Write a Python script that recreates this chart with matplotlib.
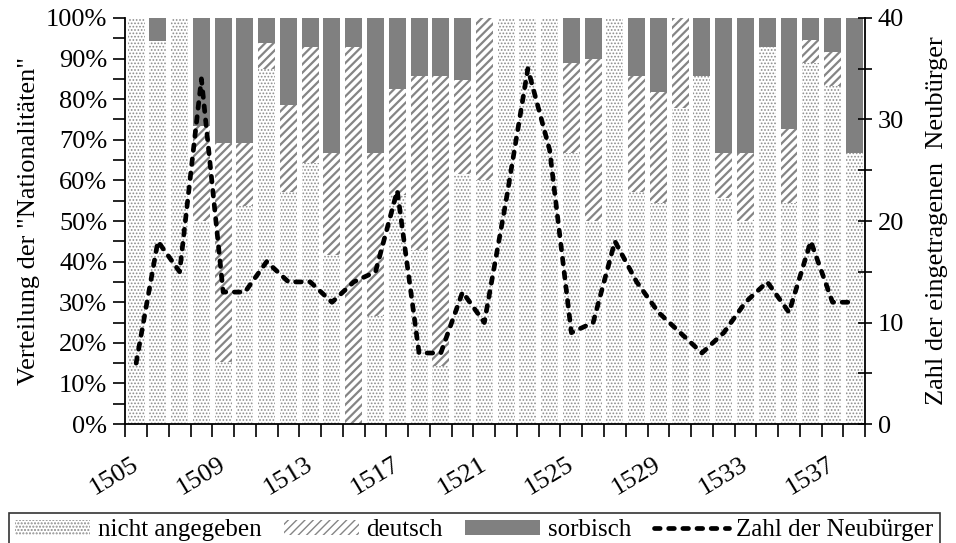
import matplotlib
matplotlib.use("Agg")
import matplotlib.pyplot as plt
from matplotlib.patches import Patch
from matplotlib.lines import Line2D
from matplotlib.ticker import FixedLocator, MultipleLocator, FuncFormatter
from matplotlib.transforms import ScaledTranslation

plt.rcParams["font.family"] = ["Liberation Serif", "DejaVu Serif"]

years = list(range(1505, 1539))

# shares in percent per year
nicht_angegeben = [100, 94.4, 100, 50, 15.4, 53.8, 87.5, 57.1, 64.3, 41.7,
                   0, 26.7, 56.5, 42.9, 14.3, 61.5, 60, 100, 100, 100,
                   66.7, 50, 100, 57.1, 54.5, 77.8, 85.7, 55.6, 50, 92.9,
                   54.5, 88.9, 83.3, 66.7]
deutsch = [0, 0, 0, 23.5, 53.8, 15.4, 6.25, 21.4, 28.6, 25,
           92.9, 40, 26.1, 42.9, 71.4, 23.1, 40, 0, 0, 0,
           22.2, 40, 0, 28.6, 27.3, 22.2, 0, 11.1, 16.7, 0,
           18.2, 5.6, 8.3, 0]
sorbisch = [0, 5.6, 0, 26.5, 30.8, 30.8, 6.25, 21.4, 7.1, 33.3,
            7.1, 33.3, 17.4, 14.3, 14.3, 15.4, 0, 0, 0, 0,
            11.1, 10, 0, 14.3, 18.2, 0, 14.3, 33.3, 33.3, 7.1,
            27.3, 5.6, 8.3, 33.3]

# number of new citizens (right axis)
neubuerger = [6, 18, 15, 34, 13, 13, 16, 14, 14, 12,
              14, 15, 23, 7, 7, 13, 10, 22, 35, 27,
              9, 10, 18, 14, 11, 9, 7, 9, 12, 14,
              11, 18, 12, 12]

label_years = [1505, 1509, 1513, 1517, 1521, 1525, 1529, 1533, 1537]

x = list(range(len(years)))
bottom_de = nicht_angegeben
bottom_so = [a + b for a, b in zip(nicht_angegeben, deutsch)]

fig = plt.figure(figsize=(9.56, 5.43), dpi=100)
ax = fig.add_axes([0.131, 0.219, 0.774, 0.748])

w = 0.78
dot_style = dict(facecolor="white", edgecolor="#8c8c8c", hatch=".....", linewidth=0)
hatch_style = dict(facecolor="white", edgecolor="#858585", hatch="////", linewidth=0)
solid_style = dict(facecolor="#808080", edgecolor="#808080", linewidth=0)
line_style = dict(color="black", linewidth=3.4, dashes=(1.2, 1.8),
                  dash_capstyle="round")

with plt.rc_context({"hatch.linewidth": 0.8}):
    ax.bar(x, nicht_angegeben, w, **dot_style)
    dot_handle = Patch(**dot_style, label="nicht angegeben")
with plt.rc_context({"hatch.linewidth": 1.6}):
    ax.bar(x, deutsch, w, bottom=bottom_de, **hatch_style)
    hatch_handle = Patch(**hatch_style, label="deutsch")
ax.bar(x, sorbisch, w, bottom=bottom_so, **solid_style)

ax.set_xlim(-0.5, len(years) - 0.5)
ax.set_ylim(0, 100)
ax.yaxis.set_major_locator(MultipleLocator(10))
ax.yaxis.set_minor_locator(MultipleLocator(5))
ax.yaxis.set_major_formatter(FuncFormatter(lambda v, p: f"{v:.0f}%"))
ax.tick_params(axis="y", which="both", direction="out", length=9, width=1.2,
               labelsize=19, pad=4)
ax.set_ylabel('Verteilung der "Nationalitäten"', fontsize=19, labelpad=4)

ax.xaxis.set_major_locator(FixedLocator([years.index(y) for y in label_years]))
ax.set_xticklabels([str(y) for y in label_years])
ax.xaxis.set_minor_locator(FixedLocator([i - 0.5 for i in range(len(years) + 1)]))
ax.tick_params(axis="x", which="major", length=0, labelsize=19, pad=21)
ax.tick_params(axis="x", which="minor", direction="out", length=9, width=1.2)
shift = ScaledTranslation(6 / 100, 0, fig.dpi_scale_trans)
for lbl in ax.get_xticklabels():
    lbl.set_rotation(31)
    lbl.set_ha("right")
    lbl.set_va("top")
    lbl.set_transform(lbl.get_transform() + shift)

for side in ["top", "right"]:
    ax.spines[side].set_visible(False)
for side in ["left", "bottom"]:
    ax.spines[side].set_linewidth(1.3)

ax2 = ax.twinx()
ax2.plot(x, neubuerger, **line_style)
ax2.set_ylim(0, 40)
ax2.yaxis.set_major_locator(MultipleLocator(10))
ax2.yaxis.set_minor_locator(MultipleLocator(5))
ax2.tick_params(axis="y", which="both", direction="inout", length=10, width=1.2,
                labelsize=19, pad=4)
ax2.set_ylabel("Zahl der eingetragenen  Neubürger", fontsize=19, labelpad=16)
for side in ["top", "left", "bottom"]:
    ax2.spines[side].set_visible(False)
ax2.spines["right"].set_linewidth(1.3)

handles = [
    dot_handle,
    hatch_handle,
    Patch(**solid_style, label="sorbisch"),
    Line2D([0], [0], label="Zahl der Neubürger", **line_style),
]
leg = fig.legend(handles=handles, loc="upper center", bbox_to_anchor=(0.496, 0.055),
                 ncol=4, fontsize=18, frameon=True, fancybox=False,
                 handlelength=3.0, handleheight=0.55, handletextpad=0.3,
                 columnspacing=0.9, borderpad=0.25, borderaxespad=0)
leg.get_frame().set_edgecolor("black")
leg.get_frame().set_linewidth(1.2)

fig.savefig("out.png", dpi=100)
